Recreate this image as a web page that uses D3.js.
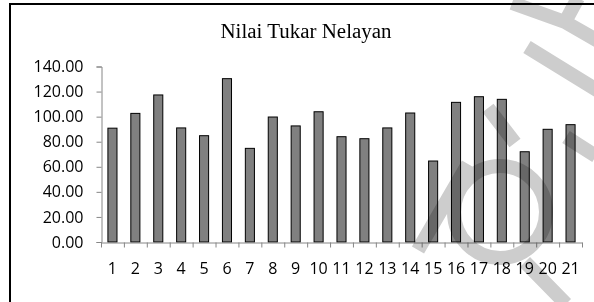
<!DOCTYPE html>
<html>
<head>
<meta charset="utf-8">
<script src="https://cdn.jsdelivr.net/npm/d3@7"></script>
<style>
  html, body { margin: 0; padding: 0; background: #fff; }
  svg { display: block; }
</style>
</head>
<body>
<svg id="chart" width="594" height="302"></svg>
<script>
// ---- data ----
const title = "Nilai Tukar Nelayan";
const categories = ["1","2","3","4","5","6","7","8","9","10","11","12","13","14","15","16","17","18","19","20","21"];
const values = [90.8, 102.6, 117.3, 91.0, 84.8, 130.3, 74.7, 99.7, 92.6, 103.9, 84.0, 82.4, 91.0, 102.9, 64.6, 111.4, 115.9, 113.8, 72.0, 89.9, 93.6];
const yTicks = [0, 20, 40, 60, 80, 100, 120, 140];

// ---- layout ----
const svg = d3.select("#chart");
const plot = { left: 101, right: 582, top: 66.5, bottom: 242 };
const labelFont = "'Open Sans', 'Liberation Sans', sans-serif";
const axisColor = "#868686";

// outer frame (extends beyond the visible area on right/bottom)
svg.append("rect")
  .attr("x", 10).attr("y", 4)
  .attr("width", 620).attr("height", 320)
  .attr("fill", "#fff")
  .attr("stroke", "#000").attr("stroke-width", 2);

const x = d3.scaleBand()
  .domain(categories)
  .range([plot.left, plot.right])
  .paddingInner(0.56)
  .paddingOuter(0.28);

const y = d3.scaleLinear()
  .domain([0, 140])
  .range([plot.bottom, plot.top]);

// title
svg.append("text")
  .attr("x", 306).attr("y", 37.5)
  .attr("text-anchor", "middle")
  .attr("font-family", "'Liberation Serif', 'DejaVu Serif', serif")
  .attr("font-size", 20)
  .attr("textLength", 171)
  .attr("lengthAdjust", "spacingAndGlyphs")
  .attr("fill", "#000")
  .text(title);

// bars
svg.append("g")
  .selectAll("rect")
  .data(values)
  .join("rect")
  .attr("x", (d, i) => x(categories[i]) + 0.5)
  .attr("y", d => y(d))
  .attr("width", x.bandwidth() - 1)
  .attr("height", d => y(0) - y(d))
  .attr("fill", "#808080")
  .attr("stroke", "#000")
  .attr("stroke-width", 1);

// y axis
const yAxis = svg.append("g")
  .attr("transform", `translate(${plot.left + 0.5},0)`)
  .call(d3.axisLeft(y).tickValues(yTicks).tickFormat(d3.format(".2f")).tickSize(5).tickPadding(13));
yAxis.select(".domain").attr("stroke", axisColor);
yAxis.selectAll(".tick line").attr("stroke", axisColor);
yAxis.selectAll(".tick text")
  .attr("font-family", labelFont)
  .attr("font-size", 16)
  .attr("fill", "#000");

// x axis: boundary ticks
const xb = d3.scaleLinear().domain([0, categories.length]).range([plot.left, plot.right]);
const xAxisTicks = svg.append("g")
  .attr("transform", `translate(0,${plot.bottom + 0.5})`)
  .call(d3.axisBottom(xb).tickValues(d3.range(0, categories.length + 1)).tickFormat("").tickSize(5).tickSizeOuter(0));
xAxisTicks.select(".domain").attr("stroke", axisColor);
xAxisTicks.selectAll(".tick line").attr("stroke", axisColor);

// x axis: category labels
const xAxisLabels = svg.append("g")
  .attr("transform", `translate(0,${plot.bottom})`)
  .call(d3.axisBottom(x).tickSize(0).tickPadding(21));
xAxisLabels.select(".domain").remove();
xAxisLabels.selectAll(".tick text")
  .attr("font-family", labelFont)
  .attr("font-size", 16)
  .attr("fill", "#000");

// faint watermark overlay (decorative)
const wm = svg.append("g")
  .style("mix-blend-mode", "multiply")
  .attr("fill", "none")
  .attr("stroke", "#cdcdcd")
  .attr("stroke-width", 14)
  .attr("stroke-linecap", "butt")
  .attr("stroke-linejoin", "round");
const ring = d3.path();
ring.arc(500, 212, 46, 0, 2 * Math.PI);
wm.append("path").attr("d", "M 418 250 L 468 164 " + ring.toString().replace(/^M[^A]*/, "M546,212") + " M 525 262 L 566 304");
wm.append("path").attr("d", "M 488 108 L 515 143 M 566 137 L 596 156");
wm.append("path").attr("d", "M 527 47 L 600 92");
wm.append("path").attr("d", "M 512 3 L 565 22 L 600 42 M 578 -2 L 565 22");
</script>
</body>
</html>
